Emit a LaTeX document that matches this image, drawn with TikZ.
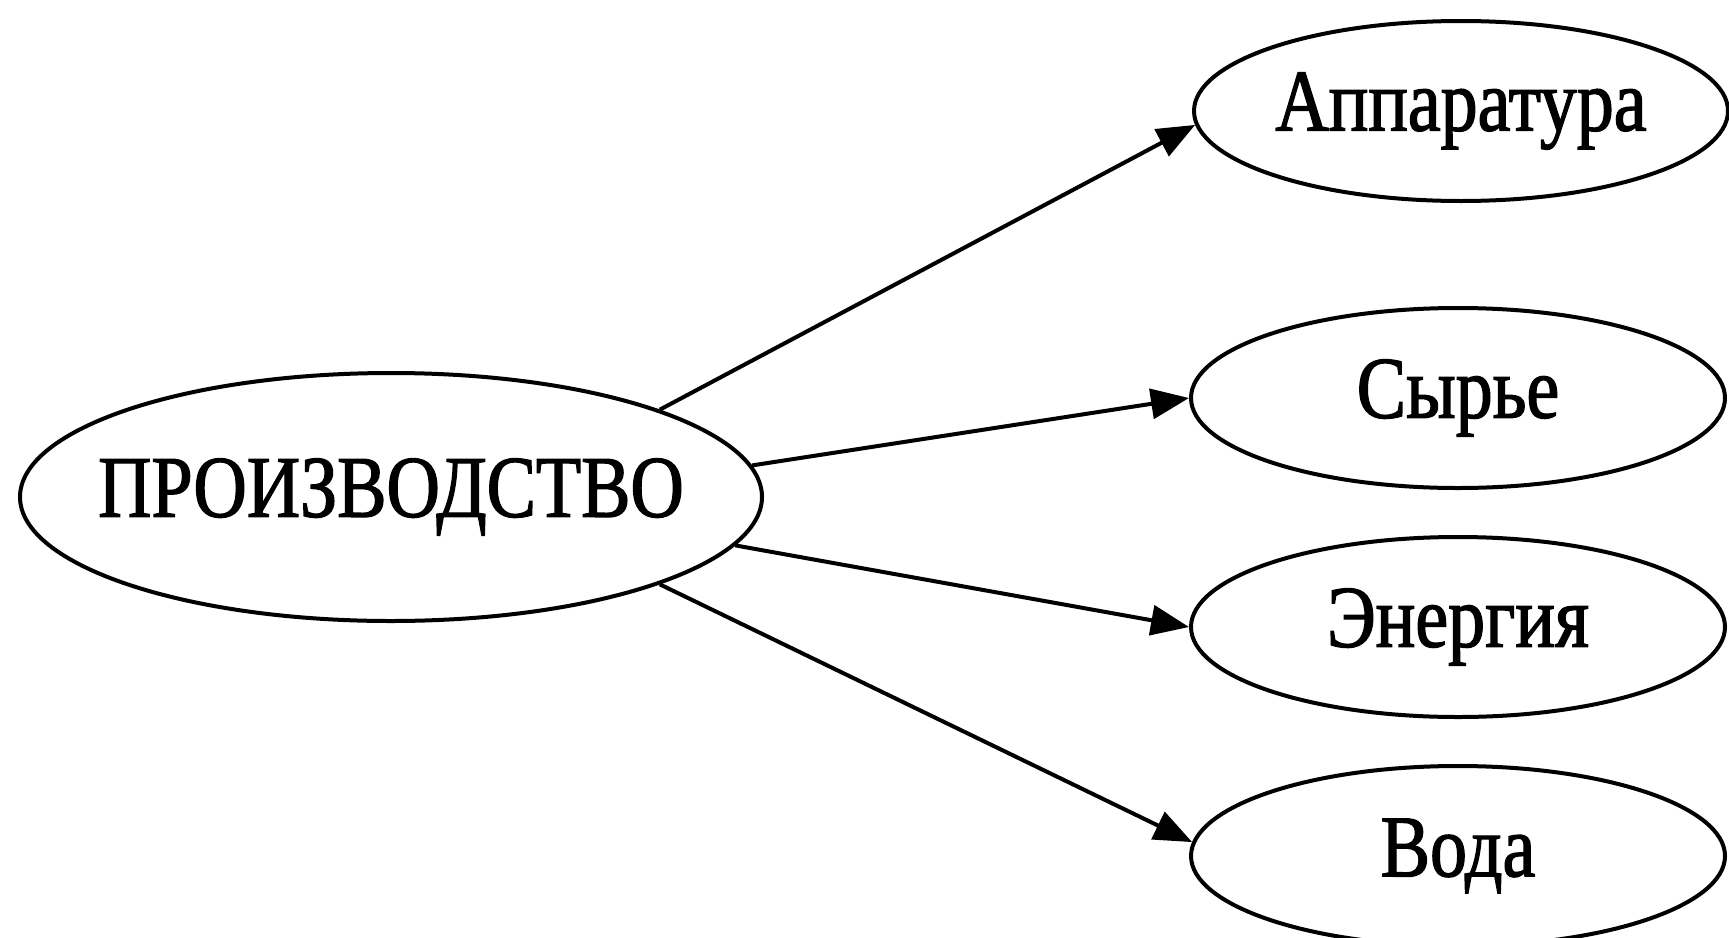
\documentclass[tikz,border=0pt]{standalone}
\usepackage{fontspec}
\setmainfont{Liberation Serif}[FakeStretch=0.84,FakeBold=1.5]
\usetikzlibrary{shapes.geometric,arrows.meta}
\tikzset{
  bubble/.style={draw, ellipse, line width=4pt, inner sep=0pt},
  bubbletext/.style={font=\fontsize{88}{96}\selectfont, inner sep=0pt},
  mainbubble/.style={bubble, minimum width=742pt, minimum height=248pt},
  sidebubble/.style={bubble, minimum width=534pt, minimum height=180pt},
  link/.style={line width=4pt, -{Triangle[length=38pt,width=30pt]}}
}
\begin{document}
\begin{tikzpicture}[x=1pt,y=-1pt]
\useasboundingbox (0,0) rectangle (1729,937);
\node[mainbubble, label={[bubbletext]center:ПРОИЗВОДСТВО}] (prod) at (391,497) {};
\node[sidebubble, label={[bubbletext]center:Аппаратура}] (app) at (1461,111) {};
\node[sidebubble, label={[bubbletext]center:Сырье}] (raw) at (1458,398) {};
\node[sidebubble, label={[bubbletext]center:Энергия}] (en) at (1458,627) {};
\node[sidebubble, label={[bubbletext]center:Вода}] (wat) at (1458,856) {};
\draw[link] (prod.18) -- (app.183);
\draw[link] (prod.5) -- (raw.west);
\draw[link] (prod.-8.5) -- (en.west);
\draw[link] (prod.-18.5) -- (wat.177);
\end{tikzpicture}
\end{document}
